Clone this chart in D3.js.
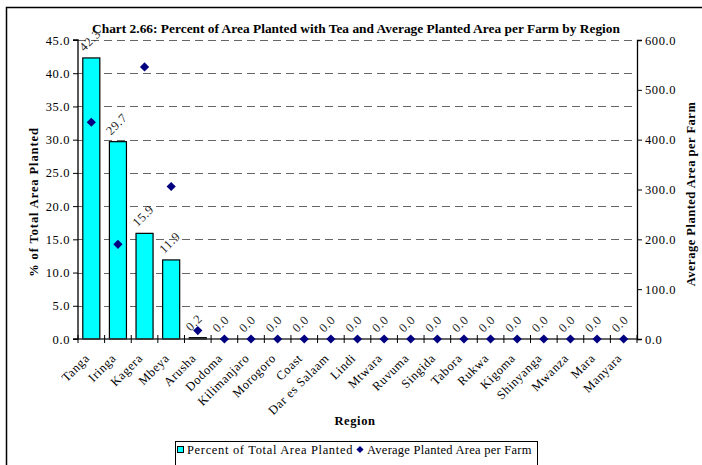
<!DOCTYPE html>
<html>
<head>
<meta charset="utf-8">
<script src="https://cdn.jsdelivr.net/npm/d3@7"></script>
<style>
  html, body { margin: 0; padding: 0; background: #fff; }
  svg { display: block; font-family: "Liberation Serif", "Times New Roman", serif; }
  svg text { font-family: "Liberation Serif", "Times New Roman", serif; letter-spacing: 0.6px; }
</style>
</head>
<body>
<svg id="chart" width="702" height="465"></svg>
<script>
// Tea planting by region
const regions = ["Tanga", "Iringa", "Kagera", "Mbeya", "Arusha", "Dodoma", "Kilimanjaro",
  "Morogoro", "Coast", "Dar es Salaam", "Lindi", "Mtwara", "Ruvuma", "Singida", "Tabora",
  "Rukwa", "Kigoma", "Shinyanga", "Mwanza", "Mara", "Manyara"];
const pctArea = [42.3, 29.7, 15.9, 11.9, 0.2, 0.0, 0.0, 0.0, 0.0, 0.0, 0.0, 0.0, 0.0, 0.0,
  0.0, 0.0, 0.0, 0.0, 0.0, 0.0, 0.0];
const avgArea = [435, 190, 546, 306, 17, 0, 0, 0, 0, 0, 0, 0, 0, 0, 0, 0, 0, 0, 0, 0, 0];
const leftTicks = [0, 5, 10, 15, 20, 25, 30, 35, 40, 45];
const rightTicks = [0, 100, 200, 300, 400, 500, 600];

const svg = d3.select("#chart");
const plot = { left: 78, right: 637, top: 40, bottom: 339 };
const fmt = d3.format(".1f");

const x = d3.scaleBand().domain(regions).range([plot.left, plot.right]).paddingInner(0.36).paddingOuter(0.18);
const xStep = d3.scaleBand().domain(regions).range([plot.left, plot.right]);
const yL = d3.scaleLinear().domain([0, 45]).range([plot.bottom, plot.top]);
const yR = d3.scaleLinear().domain([0, 600]).range([plot.bottom, plot.top]);
const cx = d => x(d) + x.bandwidth() / 2;

// outer frame
svg.append("path").attr("d", "M6.5,465 V7.5 H702").attr("fill", "none").attr("stroke", "#000").attr("stroke-width", 1.5);

// title
svg.append("text").attr("x", 356).attr("y", 33).attr("text-anchor", "middle")
  .attr("font-size", 13).attr("font-weight", "bold")
  .attr("textLength", 528).attr("lengthAdjust", "spacingAndGlyphs")
  .style("letter-spacing", "0px")
  .text("Chart 2.66: Percent of Area Planted with Tea and Average Planted Area per Farm by Region");

// dashed gridlines
svg.append("g").selectAll("line").data(leftTicks.filter(d => d > 0)).join("line")
  .attr("x1", plot.left).attr("x2", plot.right)
  .attr("y1", d => Math.round(yL(d)) + 0.5).attr("y2", d => Math.round(yL(d)) + 0.5)
  .attr("stroke", "#666").attr("stroke-dasharray", "8,5");

// bars
svg.append("g").selectAll("rect").data(regions).join("rect")
  .attr("x", d => x(d)).attr("width", x.bandwidth())
  .attr("y", (d, i) => yL(pctArea[i])).attr("height", (d, i) => plot.bottom - yL(pctArea[i]))
  .attr("fill", "#00ffff").attr("stroke", "#000").attr("stroke-width", 1.2);

// left axis
const axL = d3.axisLeft(yL).tickValues(leftTicks).tickFormat(fmt).tickSize(5).tickPadding(3);
const gL = svg.append("g").attr("transform", `translate(${plot.left},0)`).call(axL);
// right axis
const axR = d3.axisRight(yR).tickValues(rightTicks).tickFormat(fmt).tickSize(5).tickPadding(3);
const gR = svg.append("g").attr("transform", `translate(${plot.right},0)`).call(axR);
[gL, gR].forEach(g => {
  g.attr("font-family", null).attr("font-size", null);
  g.select(".domain").attr("stroke", "#000").attr("stroke-width", 1.3);
  g.selectAll(".tick line").attr("stroke", "#000");
  g.selectAll("text").attr("font-size", 12.5).attr("fill", "#000");
});
gL.select(".domain").attr("d", `M-5,${plot.top}H0V${plot.bottom}H-5`);

// bottom axis with ticks between categories
const gB = svg.append("g");
gB.append("line").attr("x1", plot.left).attr("x2", plot.right)
  .attr("y1", plot.bottom).attr("y2", plot.bottom).attr("stroke", "#333").attr("stroke-width", 1.5);
gB.selectAll("line.tk").data(regions.concat([null])).join("line").attr("class", "tk")
  .attr("x1", (d, i) => plot.left + i * xStep.step()).attr("x2", (d, i) => plot.left + i * xStep.step())
  .attr("y1", plot.bottom - 4).attr("y2", plot.bottom + 4).attr("stroke", "#000");

// category labels
svg.append("g").selectAll("text").data(regions).join("text")
  .attr("transform", d => `translate(${cx(d) - 1},${plot.bottom + 20}) rotate(-45)`)
  .attr("text-anchor", "end").attr("font-size", 12.5).attr("fill", "#000")
  .text(d => d);

// value labels on bars
svg.append("g").selectAll("text").data(regions).join("text")
  .attr("transform", (d, i) => `translate(${cx(d) - 7},${yL(pctArea[i]) - 6}) rotate(-45)`)
  .attr("text-anchor", "start").attr("font-size", 12.5).attr("fill", "#222")
  .text((d, i) => fmt(pctArea[i]));

// diamonds for average planted area
const diamondPath = r => `M0,${-r}L${r},0L0,${r}L${-r},0Z`;
svg.append("g").selectAll("path").data(regions).join("path")
  .attr("transform", (d, i) => `translate(${cx(d)},${yR(avgArea[i])})`)
  .attr("d", diamondPath(4.6)).attr("fill", "#000080");

// axis titles
svg.append("text").attr("transform", `translate(38,202) rotate(-90)`)
  .attr("text-anchor", "middle").attr("font-size", 12.5).attr("font-weight", "bold")
  .style("letter-spacing", "0.9px")
  .text("% of Total Area Planted");
svg.append("text").attr("transform", `translate(695,194) rotate(-90)`)
  .attr("text-anchor", "middle").attr("font-size", 12.5).attr("font-weight", "bold")
  .style("letter-spacing", "0.5px")
  .text("Average Planted Area per Farm");
svg.append("text").attr("x", 355).attr("y", 425).attr("text-anchor", "middle")
  .attr("font-size", 12.5).attr("font-weight", "bold").text("Region");

// legend
const lg = svg.append("g");
lg.append("rect").attr("x", 175.5).attr("y", 441.5).attr("width", 362).attr("height", 30)
  .attr("fill", "#fff").attr("stroke", "#000");
lg.append("rect").attr("x", 177.5).attr("y", 446.5).attr("width", 6).attr("height", 6)
  .attr("fill", "#00ffff").attr("stroke", "#000");
lg.append("text").attr("x", 187).attr("y", 454).attr("font-size", 12.5)
  .attr("textLength", 166).attr("lengthAdjust", "spacing").text("Percent of Total Area Planted");
lg.append("path").attr("transform", "translate(360,449.5)").attr("d", diamondPath(3.6)).attr("fill", "#000080");
lg.append("text").attr("x", 367).attr("y", 454).attr("font-size", 12.5)
  .attr("textLength", 165).attr("lengthAdjust", "spacing").text("Average Planted Area per Farm");
</script>
</body>
</html>
